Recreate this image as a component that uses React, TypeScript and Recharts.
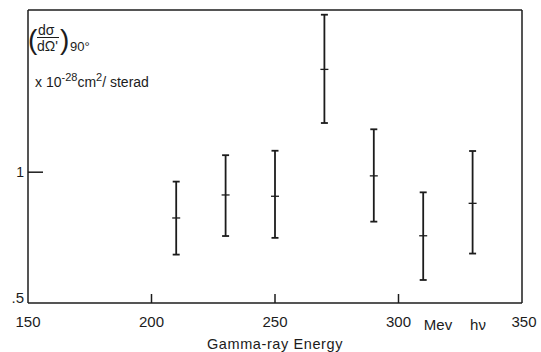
import React from 'react';
import { ComposedChart, Scatter, XAxis, YAxis, ErrorBar, Customized, ReferenceLine } from 'recharts';

const energies = [210, 230, 250, 270, 290, 310, 330];
const crossSection = [0.825, 0.913, 0.908, 1.393, 0.986, 0.757, 0.881];
const lowerBound = [0.685, 0.756, 0.749, 1.188, 0.811, 0.588, 0.689];
const upperBound = [0.964, 1.065, 1.082, 1.602, 1.164, 0.923, 1.081];
const xTicks = [150, 200, 250, 300, 350];
const yTicks = [0.5, 1];
const xDomain = [150, 350];
const yDomain = [0.5, 1.62];

const data = energies.map((e, i) => ({
  energy: e,
  value: crossSection[i],
  low: lowerBound[i],
  high: upperBound[i],
}));

const INK = '#1c1c1c';
const FONT = '"Liberation Sans", Arial, sans-serif';

const XTick = (props: any) => {
  const { x, y, payload } = props;
  const v = payload.value;
  const showMark = v !== 150 && v !== 350;
  return (
    <g>
      {showMark && <line x1={x} x2={x} y1={y} y2={y - 9} stroke={INK} strokeWidth={1.5} />}
      <text x={v === 350 ? x + 2 : x} y={y + 24} textAnchor="middle" fontSize={15} fontFamily={FONT} fill={INK}>
        {v}
      </text>
    </g>
  );
};

const YTick = (props: any) => {
  const { x, y, payload } = props;
  const v = payload.value;
  if (v === 1) {
    return (
      <g>
        <line x1={x} x2={x + 15} y1={y} y2={y} stroke={INK} strokeWidth={1.5} />
        <text x={x - 4} y={y + 5} textAnchor="end" fontSize={14} fontFamily={FONT} fill={INK}>1</text>
      </g>
    );
  }
  return (
    <text x={x - 4} y={y} textAnchor="end" fontSize={15} fontFamily={FONT} fill={INK}>.5</text>
  );
};

const CenterMark = (props: any) => {
  const { cx, cy } = props;
  return <line x1={cx - 4} x2={cx + 4} y1={cy} y2={cy} stroke={INK} strokeWidth={1.3} />;
};

const Annotations = () => (
  <g fontFamily={FONT} fill={INK}>
    <text x={28} y={49} fontSize={28} fontWeight={300}>(</text>
    <text x={38} y={35} fontSize={14}>dσ</text>
    <line x1={37} x2={59} y1={37.5} y2={37.5} stroke={INK} strokeWidth={1} />
    <text x={37} y={51} fontSize={14}>dΩ'</text>
    <text x={60} y={49} fontSize={28} fontWeight={300}>)</text>
    <text x={70} y={51} fontSize={13}>90°</text>
    <text x={35} y={87} fontSize={14}>
      x 10<tspan dy={-6} fontSize={11}>-28</tspan><tspan dy={6}>cm</tspan>
      <tspan dy={-6} fontSize={11}>2</tspan><tspan dy={6}>/ sterad</tspan>
    </text>
    <text x={438} y={330} textAnchor="middle" fontSize={15}>Mev</text>
    <text x={478} y={330} textAnchor="middle" fontSize={15}>hν</text>
    <text x={275} y={349} textAnchor="middle" fontSize={14.5} letterSpacing={0.6}>Gamma-ray Energy</text>
  </g>
);

export default function App() {
  return (
    <div style={{ position: 'absolute', left: 0, top: 0, width: 541, height: 352, background: '#fff' }}>
      <ComposedChart width={541} height={352} data={data} margin={{ top: 10, right: 19, bottom: 9, left: 0 }}>
        <XAxis
          xAxisId="b"
          type="number"
          dataKey="energy"
          domain={xDomain}
          ticks={xTicks}
          tick={<XTick />}
          tickLine={false}
          tickSize={0}
          tickMargin={0}
          height={40}
          axisLine={{ stroke: INK, strokeWidth: 1.5 }}
          interval={0}
        />
        <YAxis
          yAxisId="l"
          type="number"
          domain={yDomain}
          ticks={yTicks}
          tick={<YTick />}
          tickLine={false}
          tickSize={0}
          tickMargin={0}
          width={28}
          axisLine={{ stroke: INK, strokeWidth: 1.5 }}
          interval={0}
          allowDataOverflow
        />
        <ReferenceLine xAxisId="b" yAxisId="l" y={yDomain[1]} stroke={INK} strokeWidth={1.5} />
        <ReferenceLine xAxisId="b" yAxisId="l" x={xDomain[1]} stroke={INK} strokeWidth={1.5} />
        <Scatter
          xAxisId="b"
          yAxisId="l"
          dataKey="value"
          shape={<CenterMark />}
          isAnimationActive={false}
        >
          <ErrorBar
            direction="y"
            dataKey={(d: any) => [d.value - d.low, d.high - d.value]}
            width={3.5}
            stroke={INK}
            strokeWidth={1.8}
            isAnimationActive={false}
          />
        </Scatter>
        <Customized component={Annotations} />
      </ComposedChart>
    </div>
  );
}
